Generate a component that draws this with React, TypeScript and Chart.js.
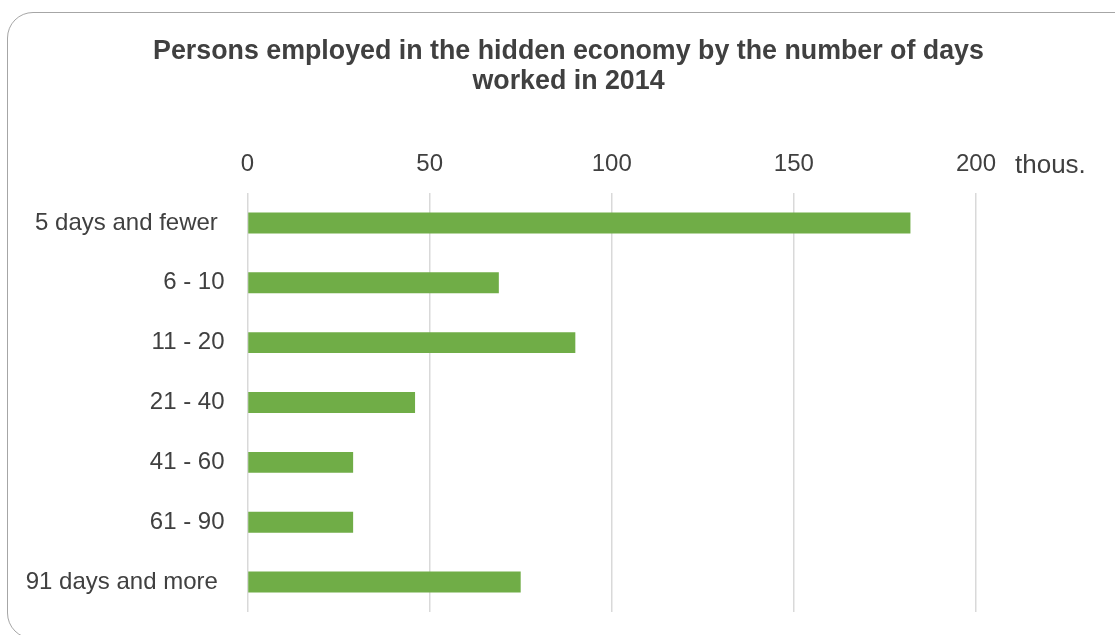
import React, { useEffect, useRef } from "react";
import { Chart, registerables } from "chart.js";

Chart.register(...registerables);

const categories = [
  "5 days and fewer ",
  "6 - 10",
  "11 - 20",
  "21 - 40",
  "41 - 60",
  "61 - 90",
  "91 days and more ",
];
const values = [182, 69, 90, 46, 29, 29, 75];
const titleLines = [
  "Persons employed in the hidden economy by the number of days",
  "worked in 2014",
];
const unitLabel = "thous.";
const axisMin = 0;
const axisMax = 200;
const axisStep = 50;

const FONT = "'Liberation Sans', Arial, sans-serif";
const TEXT = "#404040";

export default function App() {
  const ref = useRef<HTMLCanvasElement | null>(null);

  useEffect(() => {
    if (!ref.current) return;
    const textPlugin = {
      id: "extraText",
      afterDraw(chart: any) {
        const ctx = chart.ctx;
        const area = chart.chartArea;
        ctx.save();
        // title
        ctx.font = `bold 26.8px ${FONT}`;
        ctx.fillStyle = TEXT;
        ctx.textAlign = "center";
        ctx.textBaseline = "alphabetic";
        titleLines.forEach((line, i) => {
          ctx.fillText(line, 568.5, 59 + i * 30);
        });
        // unit label
        ctx.font = `26px ${FONT}`;
        ctx.textAlign = "left";
        ctx.fillText(unitLabel, area.right + 39, area.top - 20.5);
        ctx.restore();
      },
    };
    const chart = new Chart(ref.current, {
      type: "bar",
      data: {
        labels: categories,
        datasets: [
          {
            data: values,
            backgroundColor: "#70AD47",
            borderWidth: 0,
            barPercentage: 0.35,
            categoryPercentage: 1,
          },
        ],
      },
      options: {
        indexAxis: "y",
        responsive: false,
        animation: false,
        layout: { padding: { left: 0, right: 139, top: 94, bottom: 23 } },
        plugins: {
          legend: { display: false },
          tooltip: { enabled: false },
          title: { display: false },
        },
        scales: {
          x: {
            position: "top",
            min: axisMin,
            max: axisMax,
            ticks: {
              stepSize: axisStep,
              color: TEXT,
              font: { family: FONT, size: 24 },
              padding: 14,
            },
            grid: { color: "#d9d9d9", lineWidth: 1.5, drawTicks: false },
            border: { display: false },
            afterFit(scale: any) {
              scale.height = 99;
            },
          },
          y: {
            ticks: {
              color: TEXT,
              font: { family: FONT, size: 24 },
              padding: 23,
              autoSkip: false,
            },
            grid: { display: false, drawTicks: false },
            border: { display: false },
            afterFit(scale: any) {
              scale.width = 247.5;
              scale.paddingTop = 0;
              scale.paddingBottom = 0;
            },
          },
        },
      },
      plugins: [textPlugin],
    } as any);
    return () => chart.destroy();
  }, []);

  return (
    <div
      style={{
        position: "fixed",
        left: 0,
        top: 0,
        width: 1115,
        height: 635,
        overflow: "hidden",
        background: "#fff",
      }}
    >
      <div
        style={{
          position: "absolute",
          left: 7,
          top: 12,
          width: 1200,
          height: 627,
          boxSizing: "border-box",
          border: "1.5px solid #a6a6a6",
          borderRadius: 26,
        }}
      />
      <canvas
        ref={ref}
        width={1115}
        height={635}
        style={{ position: "absolute", left: 0, top: 0, width: 1115, height: 635 }}
      />
    </div>
  );
}
